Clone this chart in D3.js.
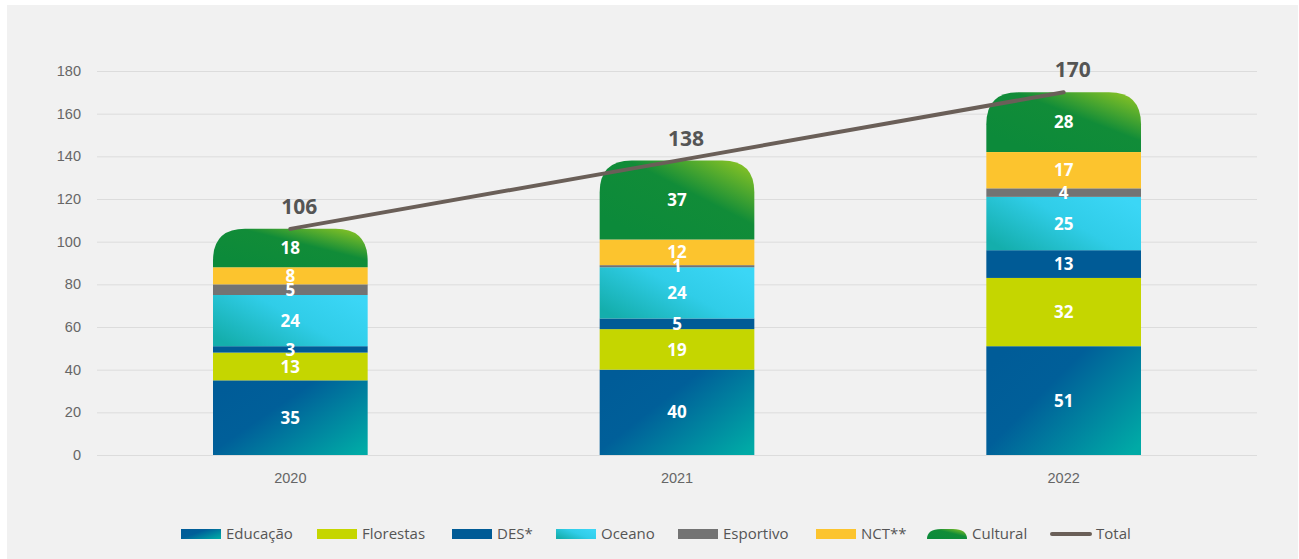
<!DOCTYPE html>
<html>
<head>
<meta charset="utf-8">
<script src="https://cdn.jsdelivr.net/npm/d3@7"></script>
<style>
  body { margin:0; background:#fff; }
  svg { display:block; font-family:"Open Sans", "Noto Sans", sans-serif; }
</style>
</head>
<body>
<div class="canvas"></div>
<script>
//------------------------data
const years = ['2020', '2021', '2022'];
const educacao = [35, 40, 51];
const florestas = [13, 19, 32];
const des = [3, 5, 13];
const oceano = [24, 24, 25];
const esportivo = [5, 1, 4];
const nct = [8, 12, 17];
const cultural = [18, 37, 28];
const totals = [106, 138, 170];
const yTicks = [0, 20, 40, 60, 80, 100, 120, 140, 160, 180];

const seriesNames = ['Educação', 'Florestas', 'DES*', 'Oceano', 'Esportivo', 'NCT**', 'Cultural'];
const seriesValues = [educacao, florestas, des, oceano, esportivo, nct, cultural];

//diamensions
const dims = { width:1299, height:559 };
const plot = { left:97, right:1257, top:71, bottom:455 };

const svg = d3.select('.canvas')
.append('svg')
.attr('width', dims.width)
.attr('height', dims.height);

// light grey panel
svg.append('rect')
.attr('x', 7).attr('y', 5)
.attr('width', dims.width - 8).attr('height', dims.height - 5)
.attr('fill', '#f1f1f1');

//------------------------gradients
const defs = svg.append('defs');
const addGrad = (id, stops, x1, y1, x2, y2) => {
    const g = defs.append('linearGradient')
    .attr('id', id)
    .attr('x1', x1).attr('y1', y1).attr('x2', x2).attr('y2', y2);
    stops.forEach(s => g.append('stop').attr('offset', s[0]).attr('stop-color', s[1]));
};
addGrad('gEdu', [[0, '#005c98'], [0.35, '#005f99'], [1, '#00aaa6']], 0, 0.2, 1, 0.9);
addGrad('gOce', [[0, '#14aeac'], [0.55, '#30cde8'], [1, '#3bd6f6']], 0, 0.8, 1, 0.2);
addGrad('gCul', [[0, '#0c8a3a'], [0.55, '#118c38'], [1, '#86c225']], 0.2, 0.9, 1, 0.1);

const fills = ['url(#gEdu)', '#c5d600', '#005b96', 'url(#gOce)', '#737373', '#fcc42e', 'url(#gCul)'];

//------------------------scales
const x = d3.scaleBand()
.domain(years)
.range([plot.left, plot.right])
.paddingInner(0.6)
.paddingOuter(0.3);

const y = d3.scaleLinear()
.domain([0, 180])
.range([plot.bottom, plot.top]);

//------------------------grid + y axis
const yAxis = d3.axisLeft(y)
.tickValues(yTicks)
.tickSize(-(plot.right - plot.left))
.tickPadding(16);

const yG = svg.append('g')
.attr('transform', `translate(${plot.left}, 0)`)
.call(yAxis);
yG.select('.domain').remove();
yG.selectAll('.tick line').attr('stroke', '#dcdcdc').attr('stroke-width', 1);
yG.selectAll('.tick text').attr('fill', '#666').style('font-size', '14.5px');

// x labels
const xAxis = d3.axisBottom(x).tickSize(0).tickPadding(18);
const xG = svg.append('g')
.attr('transform', `translate(0, ${plot.bottom})`)
.call(xAxis);
xG.select('.domain').remove();
xG.selectAll('.tick text').attr('fill', '#666').style('font-size', '14.5px');

//------------------------stacked data
const table = years.map((yr, i) => {
    const row = { year: yr };
    seriesNames.forEach((n, k) => row[n] = seriesValues[k][i]);
    return row;
});
const stack = d3.stack().keys(seriesNames);
const layers = stack(table);

// rounded top path for the cultural segment
const domePath = (x0, y0, w, h, r) => {
    const ry = Math.min(r, h);
    return `M${x0},${y0 + h} L${x0},${y0 + ry} Q${x0},${y0} ${x0 + r},${y0} ` +
           `L${x0 + w - r},${y0} Q${x0 + w},${y0} ${x0 + w},${y0 + ry} L${x0 + w},${y0 + h} Z`;
};

const bw = x.bandwidth();
layers.forEach((layer, k) => {
    const g = svg.append('g').attr('class', 'layer');
    if (k === seriesNames.length - 1) {
        g.selectAll('path')
        .data(layer)
        .enter().append('path')
        .attr('d', d => domePath(x(d.data.year), y(d[1]), bw, y(d[0]) - y(d[1]), 32))
        .attr('fill', fills[k]);
    } else {
        g.selectAll('rect')
        .data(layer)
        .enter().append('rect')
        .attr('x', d => x(d.data.year))
        .attr('y', d => y(d[1]))
        .attr('width', bw)
        .attr('height', d => y(d[0]) - y(d[1]))
        .attr('fill', fills[k]);
    }
});

// value labels - thin segments touch their neighbours, as in the original
layers.forEach(layer => {
    svg.append('g').selectAll('text')
    .data(layer)
    .enter().append('text')
    .attr('x', d => x(d.data.year) + bw / 2)
    .attr('y', d => (y(d[0]) + y(d[1])) / 2)
    .attr('dy', '0.36em')
    .attr('text-anchor', 'middle')
    .attr('fill', '#fff')
    .style('font-size', '17px')
    .style('font-weight', 'bold')
    .text(d => d[1] - d[0]);
});

//------------------------total line
const line = d3.line()
.x((d, i) => x(years[i]) + bw / 2)
.y(d => y(d));

svg.append('path')
.datum(totals)
.attr('d', line)
.attr('fill', 'none')
.attr('stroke', '#6a5f58')
.attr('stroke-width', 4)
.attr('stroke-linecap', 'round');

svg.append('g').selectAll('text')
.data(totals)
.enter().append('text')
.attr('x', (d, i) => x(years[i]) + bw / 2 + 9)
.attr('y', d => y(d) - 15)
.attr('text-anchor', 'middle')
.attr('fill', '#555')
.style('font-size', '21px')
.style('font-weight', 'bold')
.text(d => d);

//------------------------legend
const legendItems = seriesNames.concat(['Total']);
const legendX = [181, 317, 452, 556, 678, 816, 927, 1050];
const legend = svg.append('g');
legendItems.forEach((name, k) => {
    const lx = legendX[k];
    if (name === 'Total') {
        legend.append('line')
        .attr('x1', lx + 2).attr('x2', lx + 40)
        .attr('y1', 534).attr('y2', 534)
        .attr('stroke', '#6a5f58').attr('stroke-width', 4).attr('stroke-linecap', 'round');
    } else if (name === 'Cultural') {
        legend.append('path')
        .attr('d', domePath(lx, 529, 40, 10, 14))
        .attr('fill', fills[k]);
    } else {
        legend.append('rect')
        .attr('x', lx).attr('y', 529)
        .attr('width', 40).attr('height', 10)
        .attr('fill', fills[k]);
    }
    legend.append('text')
    .attr('x', lx + (name === 'Total' ? 46 : 45))
    .attr('y', 534)
    .attr('dy', '0.35em')
    .attr('fill', '#555')
    .style('font-size', '15px')
    .text(name);
});
</script>
</body>
</html>
